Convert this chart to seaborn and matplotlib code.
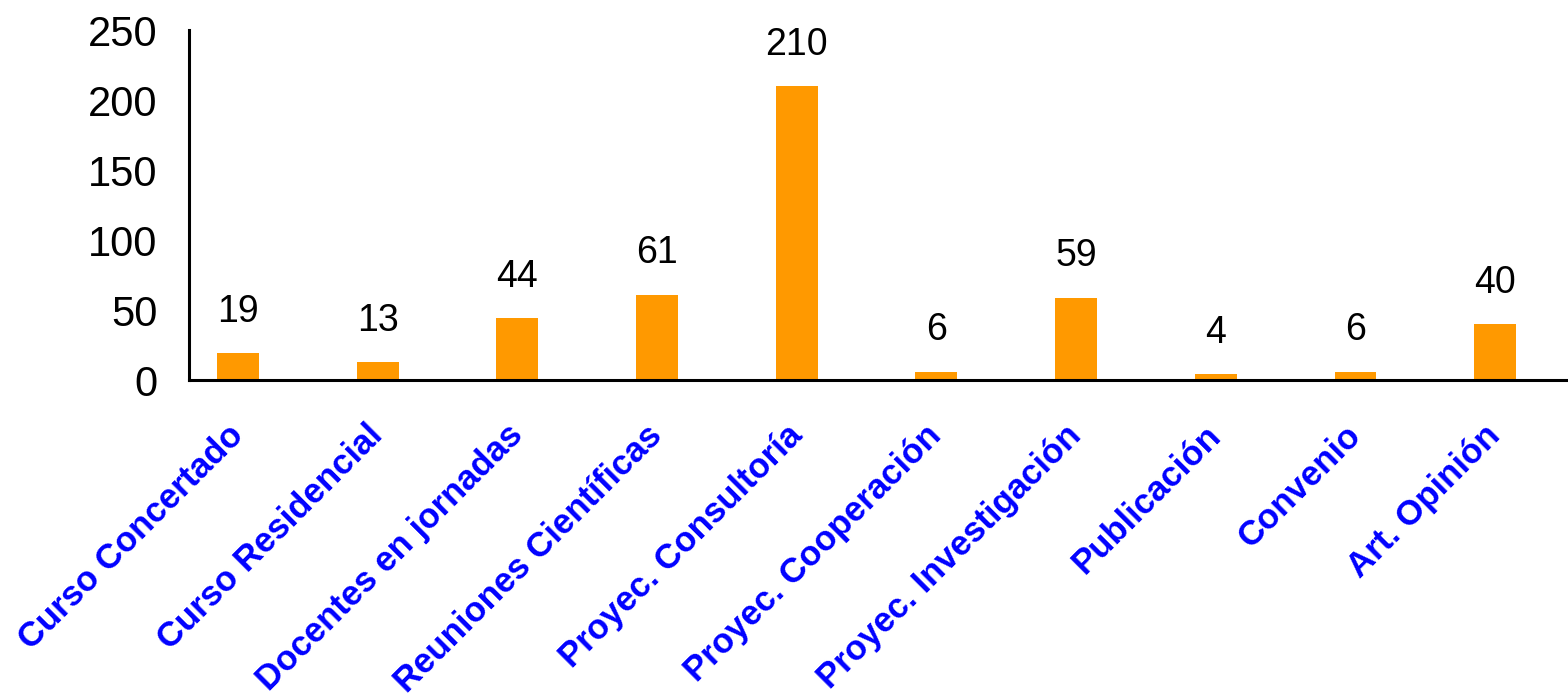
import matplotlib
matplotlib.use("Agg")
import matplotlib.pyplot as plt
import matplotlib.transforms as mtransforms
import seaborn as sns
import pandas as pd
import numpy as np

categories = ["Curso Concertado", "Curso Residencial", "Docentes en jornadas",
              "Reuniones Científicas", "Proyec. Consultoría", "Proyec. Cooperación",
              "Proyec. Investigación", "Publicación", "Convenio", "Art. Opinión"]
values = [19, 13, 44, 61, 210, 6, 59, 4, 6, 40]
empty_series = [0] * len(categories)   # second (empty) series slot, as in the source chart
yticks = [0, 50, 100, 150, 200, 250]

sns.set_style("white")
plt.rcParams['font.family'] = ['Liberation Sans', 'DejaVu Sans']

df = pd.DataFrame({
    "cat": categories * 2,
    "val": values + empty_series,
    "serie": ["A"] * len(categories) + ["B"] * len(categories),
})

fig = plt.figure(figsize=(15.68, 6.96), dpi=100)
ax = fig.add_axes([189/1568, 1-380/696, 1397/1568, (380-30.5)/696])

sns.barplot(data=df, x="cat", y="val", hue="serie", palette=["#FF9900", "#FF9900"],
            width=0.60, dodge=True, gap=0, saturation=1, ax=ax,
            edgecolor="none", linewidth=0, legend=False)

ax.set_xlim(-0.5, len(categories) - 0.5)
ax.set_ylim(0, 250)
ax.set_yticks(yticks)
ax.set_yticklabels([str(t) for t in yticks], fontsize=30)
ax.tick_params(axis='y', direction='out', length=9.4, width=2, pad=13.5, colors='black')

ax.set_xticks(range(len(categories)))
ax.set_xticklabels(categories, rotation=45, ha='right', va='baseline',
                   rotation_mode='anchor',
                   fontsize=25, fontweight='bold', color='#0000FF')
ax.tick_params(axis='x', which='major', length=0, pad=41)
shift = mtransforms.ScaledTranslation(-14/100, 0, fig.dpi_scale_trans)
for lab in ax.get_xticklabels():
    lab.set_transform(lab.get_transform() + shift)
ax.set_xticks(np.arange(-0.5, len(categories), 1.0), minor=True)
ax.tick_params(axis='x', which='minor', direction='out', length=9.4, width=2, color='black')

for s in ['top', 'right']:
    ax.spines[s].set_visible(False)
for s in ['left', 'bottom']:
    ax.spines[s].set_color('black')
    ax.spines[s].set_linewidth(2.2)

ax.set_xlabel("")
ax.set_ylabel("")

labels = ax.bar_label(ax.containers[0], labels=[str(v) for v in values],
                      padding=22.5, fontsize=27, color='black')
for t in labels:
    t.set_va('baseline')

fig.savefig("out.png", dpi=100)
